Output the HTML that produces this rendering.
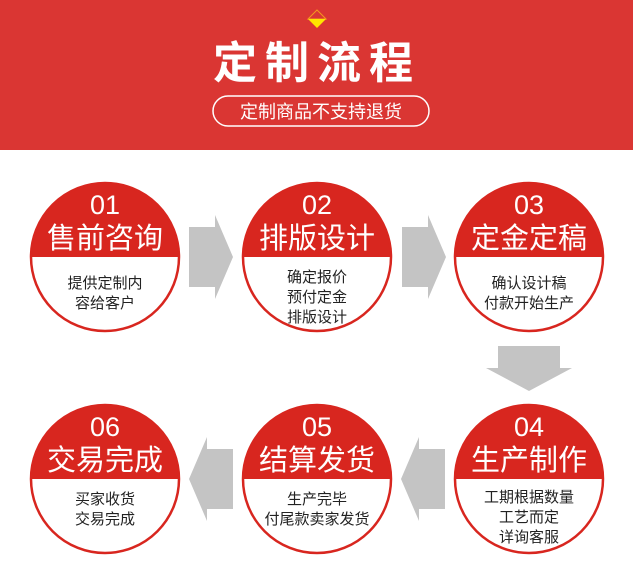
<!DOCTYPE html>
<html><head><meta charset="utf-8"><style>
html,body{margin:0;padding:0;background:#fff;}
svg{display:block;}
text{font-family:"Liberation Sans","Noto Sans CJK SC",sans-serif;}
</style></head><body>
<svg width="633" height="585" viewBox="0 0 633 585" xmlns="http://www.w3.org/2000/svg">
<defs>
<clipPath id="c"><circle cx="0" cy="0" r="74"/></clipPath>
<g id="circ">
  <circle cx="0" cy="0" r="74" fill="#fff"/>
  <rect x="-75" y="-75" width="150" height="75" fill="#d8261f" clip-path="url(#c)"/>
  <circle cx="0" cy="0" r="74" fill="none" stroke="#d8261f" stroke-width="2.5"/>
</g>
<polygon id="ar" points="0,-30 26,-30 26,-42 44,0 26,42 26,30 0,30" fill="#c4c4c4"/>
</defs>
<rect x="0" y="0" width="633" height="150" fill="#da3633"/>
<polygon points="317,10 326,19 308,19" fill="none" stroke="#f39a1e" stroke-width="1"/>
<polygon points="308,19 326,19 317,28" fill="#ffe600"/>
<text x="317" y="78" font-size="44" font-weight="bold" fill="#fff" text-anchor="middle" letter-spacing="8">定制流程</text>
<rect x="213" y="96" width="216" height="30" rx="15" fill="none" stroke="#fff" stroke-width="1.5"/>
<text x="321" y="118" font-size="18" fill="#fff" text-anchor="middle">定制商品不支持退货</text>

<use href="#ar" x="189" y="257"/>
<use href="#ar" x="402" y="257"/>
<polygon points="498,346 560,346 560,368 572,368 529,391 486,368 498,368" fill="#c4c4c4"/>
<use href="#ar" transform="translate(445,479) scale(-1,1)"/>
<use href="#ar" transform="translate(233,479) scale(-1,1)"/>

<g fill="#fff" text-anchor="middle">
<use href="#circ" x="105" y="257"/><use href="#circ" x="317" y="257"/><use href="#circ" x="529" y="257"/>
<use href="#circ" x="105" y="479"/><use href="#circ" x="317" y="479"/><use href="#circ" x="529" y="479"/>
<text x="105" y="214" font-size="27">01</text><text x="105" y="248" font-size="29">售前咨询</text>
<text x="317" y="214" font-size="27">02</text><text x="317" y="248" font-size="29">排版设计</text>
<text x="529" y="214" font-size="27">03</text><text x="529" y="248" font-size="29">定金定稿</text>
<text x="105" y="436" font-size="27">06</text><text x="105" y="470" font-size="29">交易完成</text>
<text x="317" y="436" font-size="27">05</text><text x="317" y="470" font-size="29">结算发货</text>
<text x="529" y="436" font-size="27">04</text><text x="529" y="470" font-size="29">生产制作</text>
</g>
<g fill="#222" text-anchor="middle" font-size="15">
<text x="105" y="288">提供定制内</text><text x="105" y="308">容给客户</text>
<text x="317" y="282">确定报价</text><text x="317" y="302">预付定金</text><text x="317" y="322">排版设计</text>
<text x="529" y="288">确认设计稿</text><text x="529" y="308">付款开始生产</text>
<text x="105" y="504">买家收货</text><text x="105" y="524">交易完成</text>
<text x="317" y="504">生产完毕</text><text x="317" y="524">付尾款卖家发货</text>
<text x="529" y="502">工期根据数量</text><text x="529" y="522">工艺而定</text><text x="529" y="542">详询客服</text>
</g>
</svg>
</body></html>
